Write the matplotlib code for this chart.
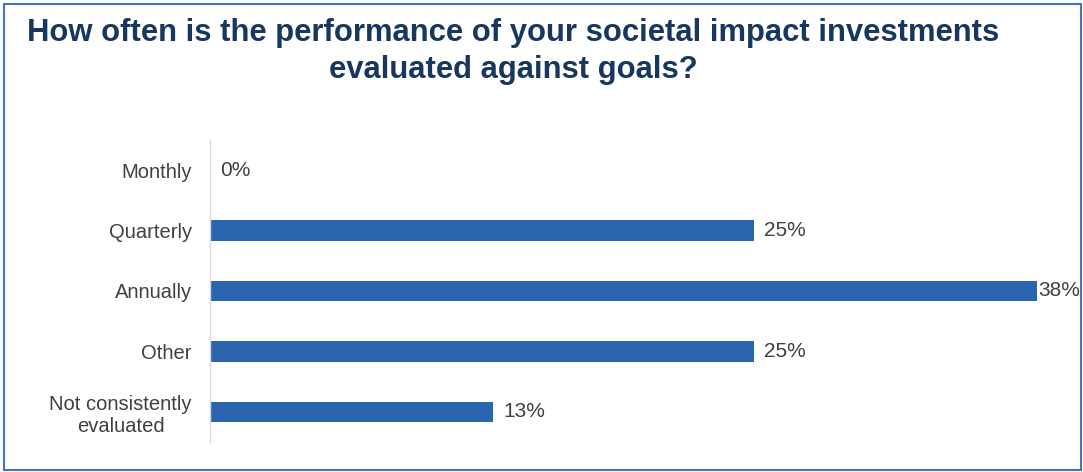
import matplotlib
matplotlib.use("Agg")
import matplotlib.pyplot as plt
from matplotlib.patches import Rectangle

plt.rcParams['font.family'] = ['Liberation Sans', 'DejaVu Sans']

categories = ["Monthly", "Quarterly", "Annually", "Other", "Not consistently\nevaluated"]
shares = [0, 25, 38, 25, 13]
value_labels = ["0%", "25%", "38%", "25%", "13%"]

TITLE_COLOR = "#17375E"
BAR_COLOR = "#2B65AE"
TEXT_COLOR = "#404040"

fig = plt.figure(figsize=(10.83, 4.72), dpi=100)
W, H = 1083, 472

# outer frame
fig.patches.append(Rectangle((4 / W, 2 / H), 1077 / W, 466 / H, transform=fig.transFigure,
                             fill=False, edgecolor="#4472C4", linewidth=1.5))

fig.text(513 / W, 1 - 41 / H, "How often is the performance of your societal impact investments",
         ha="center", va="baseline", fontsize=22.3, fontweight="bold", color=TITLE_COLOR)
fig.text(513 / W, 1 - 78 / H, "evaluated against goals?",
         ha="center", va="baseline", fontsize=22.3, fontweight="bold", color=TITLE_COLOR)

ax = fig.add_axes([210 / W, 1 - 442 / H, 827 / W, 302 / H])
y = list(range(len(categories)))
ax.barh(y, shares, height=0.34, color=BAR_COLOR)
ax.set_xlim(0, 38)
ax.set_ylim(len(categories) - 0.5, -0.5)

# the longest bar's label sits flush against the bar so it stays inside the frame
for yi, v, lab in zip(y, shares, value_labels):
    gap = 1 if v == max(shares) else 10
    ax.annotate(lab, (v, yi), xytext=(gap, 0), textcoords="offset pixels",
                ha="left", va="center", fontsize=15, color=TEXT_COLOR)

ax.set_yticks(y)
ax.set_yticklabels(categories, fontsize=14.5, color=TEXT_COLOR, linespacing=1.2)
for t in ax.get_yticklabels():
    t.set_multialignment("center")
ax.tick_params(axis="y", length=0, pad=13)
ax.set_xticks([])
for side in ["top", "right", "bottom"]:
    ax.spines[side].set_visible(False)
ax.spines["left"].set_color("#D9D9D9")
ax.spines["left"].set_linewidth(1)

fig.savefig("out.png", dpi=100)
